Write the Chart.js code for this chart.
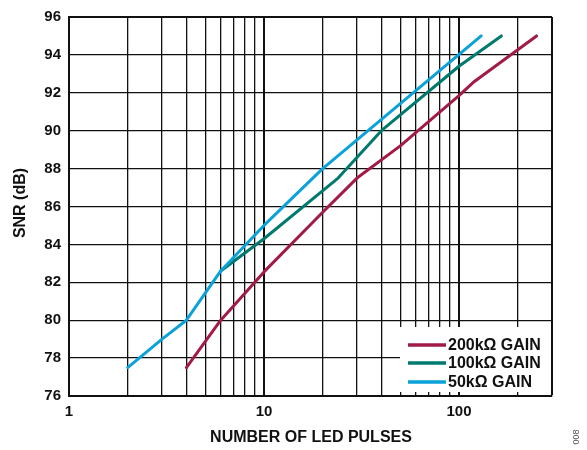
<!DOCTYPE html>
<html>
<head>
<meta charset="utf-8">
<script src="https://cdn.jsdelivr.net/npm/chart.js@4/dist/chart.umd.min.js"></script>
<style>
  html, body { margin: 0; padding: 0; background: #fff; }
  #wrap { width: 587px; height: 450px; position: relative; }
</style>
</head>
<body>
<div id="wrap"><canvas id="snrChart" width="587" height="450"></canvas></div>
<script>
// SNR vs number of LED pulses
const pulses200k = [4, 6, 10, 20, 30, 50, 100, 120, 250];
const snr200k    = [77.5, 80.0, 82.55, 85.7, 87.5, 89.2, 91.85, 92.6, 95.0];

const pulses100k = [6, 10, 24, 40, 100, 165];
const snr100k    = [82.6, 84.3, 87.5, 90.0, 93.4, 95.0];

const pulses50k  = [2, 3, 4, 6, 10, 20, 130];
const snr50k     = [77.5, 79.0, 80.0, 82.6, 85.0, 88.0, 95.0];

const seriesNames = ['200k\u03A9 GAIN', '100k\u03A9 GAIN', '50k\u03A9 GAIN'];
const seriesColors = ['#A11A4A', '#007A6E', '#0AA2D8'];

// log axis grid lines and labelled ticks
const xGridValues = [1, 2, 3, 4, 5, 6, 7, 8, 9, 10, 20, 30, 40, 50, 60, 70, 80, 90, 100, 200, 300];
const xTickLabels = [1, 10, 100];
const yMin = 76, yMax = 96, yStep = 2;

const toPoints = (xs, ys) => xs.map((x, i) => ({ x: x, y: ys[i] }));

const FONT = 'Liberation Sans, Arial, Helvetica, sans-serif';

const annotations = {
    id: 'annotations',
    afterDraw(chart) {
        const ctx = chart.ctx;
        const area = chart.chartArea;
        ctx.save();

        // legend box, bottom right of the plot
        const bx = 400, by = 327, bw = area.right - 1 - 400, bh = 65;
        ctx.fillStyle = '#fff';
        ctx.fillRect(bx, by, bw, bh);
        ctx.font = 'bold 16px ' + FONT;
        ctx.textBaseline = 'middle';
        ctx.textAlign = 'left';
        const rows = [345, 363, 382];
        chart.data.datasets.forEach((ds, i) => {
            ctx.strokeStyle = ds.borderColor;
            ctx.lineWidth = 3.5;
            ctx.beginPath();
            ctx.moveTo(408, rows[i]);
            ctx.lineTo(446, rows[i]);
            ctx.stroke();
            ctx.fillStyle = '#111';
            ctx.fillText(ds.label, 448, rows[i] + 0.5);
        });

        // axis titles
        ctx.fillStyle = '#111';
        ctx.font = 'bold 16px ' + FONT;
        ctx.textAlign = 'center';
        ctx.fillText('NUMBER OF LED PULSES', 311, 438);

        ctx.save();
        ctx.translate(21, 203);
        ctx.rotate(-Math.PI / 2);
        ctx.fillText('SNR (dB)', 0, 0);
        ctx.restore();

        // figure number
        ctx.save();
        ctx.translate(577, 437);
        ctx.rotate(-Math.PI / 2);
        ctx.font = '9px ' + FONT;
        ctx.fillStyle = '#555';
        ctx.fillText('008', 0, 0);
        ctx.restore();

        ctx.restore();
    }
};

document.addEventListener('DOMContentLoaded', function() {
    const ctx = document.getElementById('snrChart').getContext('2d');

    new Chart(ctx, {
        type: 'line',
        data: {
            datasets: [{
                label: seriesNames[0],
                data: toPoints(pulses200k, snr200k),
                borderColor: seriesColors[0],
                order: 2
            }, {
                label: seriesNames[1],
                data: toPoints(pulses100k, snr100k),
                borderColor: seriesColors[1],
                order: 1
            }, {
                label: seriesNames[2],
                data: toPoints(pulses50k, snr50k),
                borderColor: seriesColors[2],
                order: 0
            }]
        },
        options: {
            responsive: false,
            animation: false,
            devicePixelRatio: 1,
            elements: {
                line: { borderWidth: 3, tension: 0, fill: false, borderCapStyle: 'round', borderJoinStyle: 'round' },
                point: { radius: 0 }
            },
            layout: { padding: { left: 0, top: 10, right: 35, bottom: 0 } },
            plugins: {
                legend: { display: false },
                tooltip: { enabled: false }
            },
            scales: {
                x: {
                    type: 'logarithmic',
                    min: 1,
                    max: 300,
                    afterBuildTicks: scale => {
                        scale.ticks = xGridValues.map(v => ({ value: v, major: xTickLabels.includes(v) }));
                    },
                    afterFit: scale => { scale.height = 54; },
                    ticks: {
                        autoSkip: false,
                        maxRotation: 0,
                        padding: 7,
                        color: '#111',
                        font: { family: FONT, size: 15, weight: 'bold' },
                        callback: v => xTickLabels.includes(v) ? String(v) : ''
                    },
                    grid: {
                        color: '#111',
                        drawTicks: false,
                        lineWidth: c => {
                            const v = c.tick ? c.tick.value : 0;
                            if (v === 300) return 2;
                            return (v === 10 || v === 100) ? 2 : 1.3;
                        }
                    },
                    border: { color: '#111', width: 2 }
                },
                y: {
                    min: yMin,
                    max: yMax,
                    afterFit: scale => { scale.width = 69; },
                    ticks: {
                        stepSize: yStep,
                        padding: 8,
                        color: '#111',
                        font: { family: FONT, size: 15, weight: 'bold' }
                    },
                    grid: {
                        color: '#111',
                        drawTicks: false,
                        lineWidth: c => (c.tick && c.tick.value === yMax) ? 2 : 1.3
                    },
                    border: { color: '#111', width: 2 }
                }
            }
        },
        plugins: [annotations]
    });
});
</script>
</body>
</html>
